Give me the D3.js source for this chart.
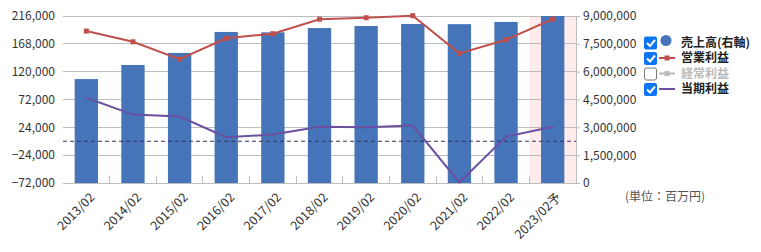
<!DOCTYPE html>
<html><head><meta charset="utf-8">
<script src="https://cdn.jsdelivr.net/npm/d3@7"></script>
<style>
body{margin:0;background:#fff;}
text{font-family:"Noto Sans CJK JP","Noto Sans",sans-serif;}
</style></head>
<body><svg id="c" width="761" height="252"></svg>
<script>
const categories=["2013/02","2014/02","2015/02","2016/02","2017/02","2018/02","2019/02","2020/02","2021/02","2022/02","2023/02予"];
const sales=[5600000,6360000,7010000,8140000,8120000,8350000,8460000,8570000,8560000,8680000,9000000];
const opProfit=[190000,171500,141500,177500,185500,210500,213000,216500,151500,175000,210500];
const netProfit=[75000,46000,42500,7000,11500,25000,24000,27000,-71000,8000,25000];
const leftTicks=[-72000,-24000,24000,72000,120000,168000,216000];
const rightTicks=[0,1500000,3000000,4500000,6000000,7500000,9000000];
const legendLabels=["売上高(右軸)","営業利益","経常利益","当期利益"];
const unitLabel="(単位：百万円)";

const svg=d3.select("#c");
const L=63,R=576,T=16,B=183;
const x=d3.scaleBand().domain(categories).range([L,R]).paddingInner(0.5).paddingOuter(0.25);
const yL=d3.scaleLinear().domain([-72000,216000]).range([B,T]);
const yR=d3.scaleLinear().domain([0,9000000]).range([B,T]);
const step=x.step(), bw=x.bandwidth();
const cx=c=>x(c)+bw/2;
const fmt=d3.format(",");

// forecast highlight
const last=categories[categories.length-1];
svg.append("rect").attr("x",x(last)-step*0.25).attr("y",T).attr("width",step).attr("height",B-T).attr("fill","#fdeceb");

// grid
svg.append("g").selectAll("line").data(leftTicks).join("line")
 .attr("x1",L).attr("x2",R).attr("y1",d=>yL(d)).attr("y2",d=>yL(d))
 .attr("stroke","#bdbdbd").attr("stroke-width",1).attr("shape-rendering","crispEdges");

// left labels
svg.append("g").selectAll("text").data(leftTicks).join("text")
 .attr("x",55).attr("y",d=>yL(d)).attr("dy","0.36em").attr("text-anchor","end")
 .attr("font-size",12).attr("fill","#333").text(d=>fmt(d));

// right axis
const ra=svg.append("g").attr("transform",`translate(${R},0)`)
 .call(d3.axisRight(yR).tickValues(rightTicks).tickFormat(fmt).tickSize(4).tickPadding(3));
ra.select(".domain").attr("stroke","#bdbdbd");
ra.selectAll(".tick line").attr("stroke","#bdbdbd");
ra.selectAll("text").attr("font-size",12).attr("fill","#333").style("font-family",'"Noto Sans CJK JP","Noto Sans",sans-serif');

// bars
svg.append("g").selectAll("rect").data(categories).join("rect")
 .attr("x",d=>x(d)).attr("width",bw)
 .attr("y",(d,i)=>yR(sales[i])).attr("height",(d,i)=>B-yR(sales[i]))
 .attr("fill","#4674b8");

// x axis baseline and ticks
svg.append("line").attr("x1",L).attr("x2",R).attr("y1",B).attr("y2",B).attr("stroke","#bdbdbd").attr("shape-rendering","crispEdges");
svg.append("g").selectAll("line").data(categories.slice(1)).join("line")
 .attr("x1",d=>x(d)-step*0.25).attr("x2",d=>x(d)-step*0.25).attr("y1",B-7).attr("y2",B)
 .attr("stroke","#bdbdbd").attr("shape-rendering","crispEdges");

// zero dashed line
svg.append("line").attr("x1",L).attr("x2",R).attr("y1",yL(0)).attr("y2",yL(0))
 .attr("stroke","#3b2f5c").attr("stroke-dasharray","4,3").attr("stroke-width",1);

// lines
const line=d3.line().x((d,i)=>cx(categories[i])).y(d=>yL(d));
svg.append("path").datum(opProfit).attr("d",line).attr("fill","none").attr("stroke","#c0504d").attr("stroke-width",2);
svg.append("g").selectAll("rect").data(opProfit).join("rect")
 .attr("x",(d,i)=>cx(categories[i])-2.5).attr("y",d=>yL(d)-2.5).attr("width",5).attr("height",5).attr("fill","#c0504d");
svg.append("path").datum(netProfit).attr("d",line).attr("fill","none").attr("stroke","#6b4fa0").attr("stroke-width",2);

// x labels
svg.append("g").selectAll("text").data(categories).join("text")
 .attr("transform",d=>`translate(${cx(d)+6},${B+12}) rotate(-45)`)
 .attr("text-anchor","end").attr("dy","0.35em").attr("font-size",12.5).attr("fill","#333").text(d=>d);

// legend
const lg=svg.append("g");
const rowsY=[42.5,58,73.5,89];
const checked=[true,true,false,true];
legendLabels.forEach((lab,i)=>{
  const y=rowsY[i];
  const g=lg.append("g");
  if(checked[i]){
    g.append("rect").attr("x",644).attr("y",y-6).attr("width",13).attr("height",13).attr("rx",2).attr("fill","#0b75f4");
    g.append("path").attr("d",`M${647},${y+0.5} l3,3 l5,-6`).attr("fill","none").attr("stroke","#fff").attr("stroke-width",2);
  } else {
    g.append("rect").attr("x",644.5).attr("y",y-5.5).attr("width",12).attr("height",12).attr("rx",2).attr("fill","#fff").attr("stroke","#777");
  }
  if(i===0){
    g.append("circle").attr("cx",666).attr("cy",y-2).attr("r",5.5).attr("fill","#4674b8");
  } else {
    const col=["","#c0504d","#bbbbbb","#6b4fa0"][i];
    g.append("line").attr("x1",659).attr("x2",675).attr("y1",y).attr("y2",y).attr("stroke",col).attr("stroke-width",2);
    if(i<3) g.append("rect").attr("x",664.5).attr("y",y-2.5).attr("width",5).attr("height",5).attr("fill",col);
  }
  g.append("text").attr("x",681).attr("y",y).attr("dy","0.35em").attr("font-size",12).attr("font-weight","bold")
   .attr("fill",checked[i]?"#222":"#bbb").text(lab);
});
svg.append("text").attr("x",625).attr("y",197).attr("dy","0.35em").attr("font-size",12).attr("fill","#555").text(unitLabel);
</script></body></html>
